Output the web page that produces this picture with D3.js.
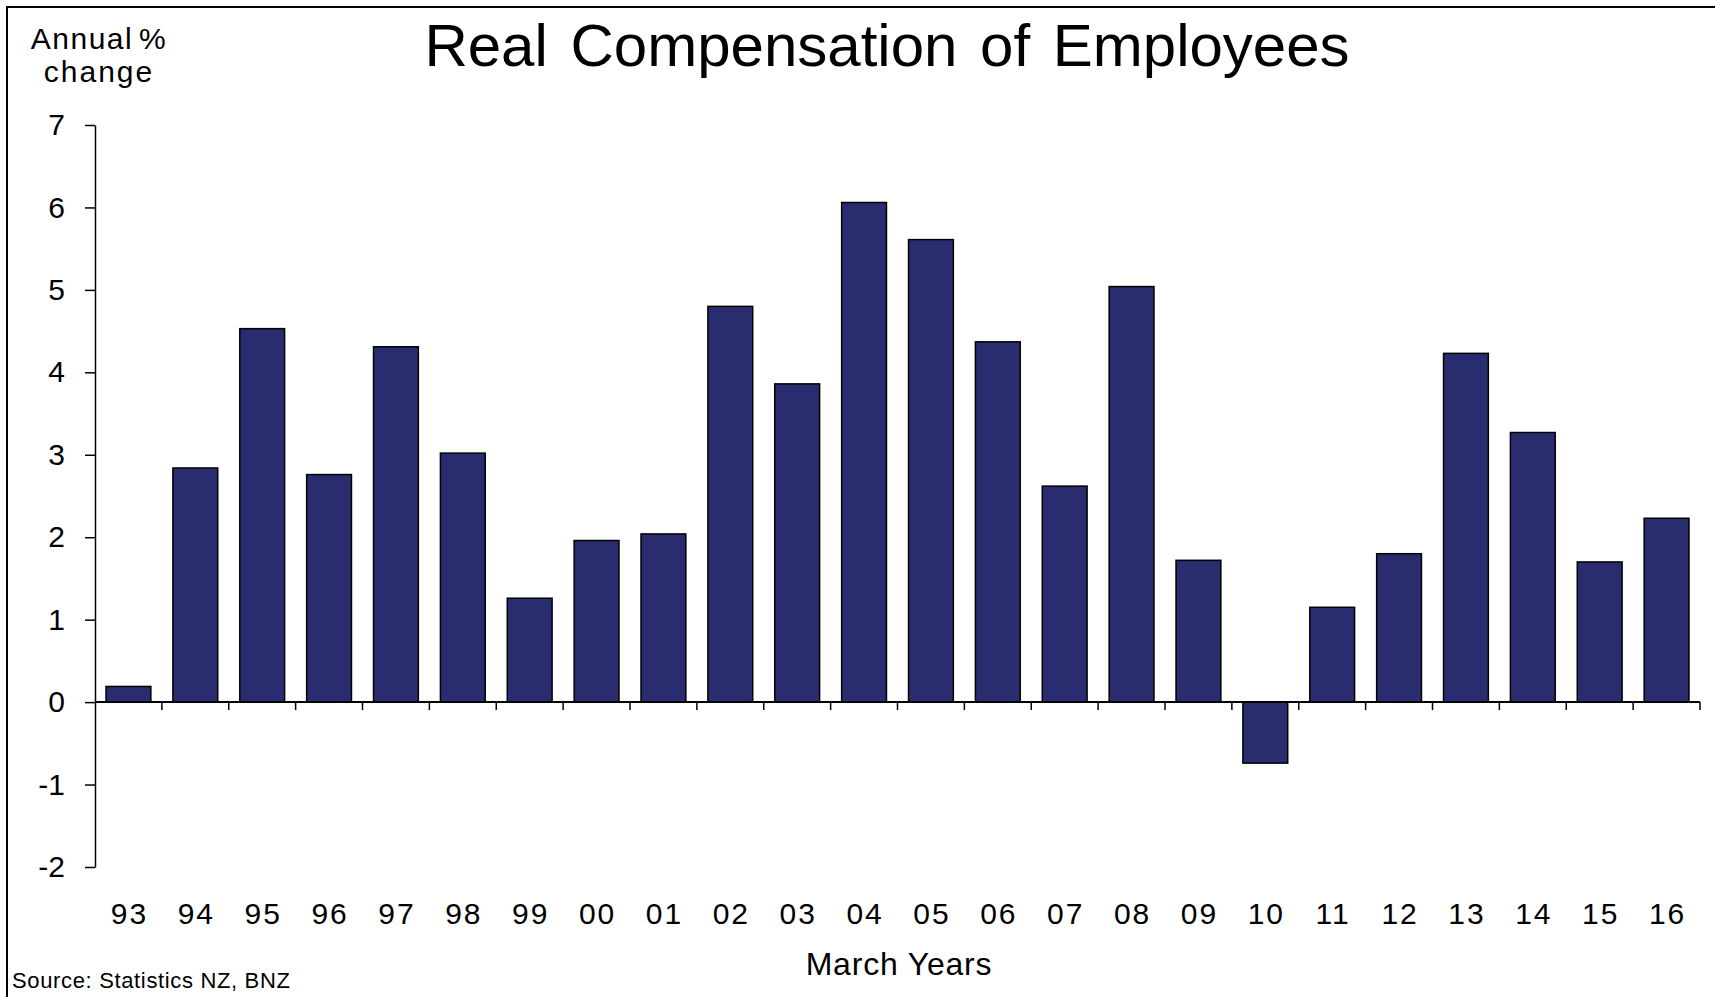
<!DOCTYPE html>
<html>
<head>
<meta charset="utf-8">
<script src="https://cdn.jsdelivr.net/npm/d3@7"></script>
<style>
  body { margin: 0; background: #fff; }
  svg { display: block; font-family: "Liberation Sans", Arial, sans-serif; }
  .axis text { font-size: 30px; fill: #000; }
  .x-axis text { letter-spacing: 2px; }
</style>
</head>
<body>
<svg id="chart"></svg>
<script>
// March years and annual % change
const years = ["93","94","95","96","97","98","99","00","01","02","03","04",
               "05","06","07","08","09","10","11","12","13","14","15","16"];
const changes = [0.19, 2.84, 4.53, 2.76, 4.31, 3.02, 1.26, 1.96, 2.04, 4.80, 3.86, 6.06,
                 5.61, 4.37, 2.62, 5.04, 1.72, -0.74, 1.15, 1.80, 4.23, 3.27, 1.70, 2.23];
const yTicks = [-2, -1, 0, 1, 2, 3, 4, 5, 6, 7];

const width = 1715, height = 997;
const plot = {left: 95, right: 1700, top: 125, bottom: 867};

const svg = d3.select("#chart")
    .attr("width", width)
    .attr("height", height);

// outer frame (only top and left edges show inside the picture)
svg.append("rect")
    .attr("x", 7).attr("y", 7)
    .attr("width", width).attr("height", height)
    .attr("fill", "none")
    .attr("stroke", "#000")
    .attr("stroke-width", 2);

const x = d3.scaleBand()
    .domain(years)
    .range([plot.left, plot.right])
    .paddingInner(0.33)
    .paddingOuter(0.165);

const y = d3.scaleLinear()
    .domain([-2, 7])
    .range([plot.bottom, plot.top]);

const data = years.map((yr, i) => ({year: yr, value: changes[i]}));

// bars
svg.append("g").selectAll("rect")
    .data(data)
    .enter()
    .append("rect")
    .attr("x", d => x(d.year))
    .attr("width", x.bandwidth())
    .attr("y", d => y(Math.max(0, d.value)))
    .attr("height", d => Math.abs(y(d.value) - y(0)))
    .attr("fill", "#292c6f")
    .attr("stroke", "#000")
    .attr("stroke-width", 1.5);

// y axis, plain hyphen for negatives like the original
const yAxis = d3.axisLeft(y)
    .tickValues(yTicks)
    .tickFormat(d => String(d))
    .tickSize(10)
    .tickSizeOuter(0)
    .tickPadding(20);

svg.append("g")
    .attr("class", "axis y-axis")
    .attr("transform", `translate(${plot.left},0)`)
    .call(yAxis)
    .call(g => g.selectAll("line, path").attr("stroke", "#000").attr("stroke-width", 1.5));

// zero line with ticks at the category boundaries
const step = x.step();
const boundaries = years.map((yr, i) => plot.left + step * (i + 1));
const zeroG = svg.append("g").attr("class", "zero-line");
zeroG.append("line")
    .attr("x1", plot.left).attr("x2", plot.right)
    .attr("y1", y(0)).attr("y2", y(0))
    .attr("stroke", "#000").attr("stroke-width", 2);
zeroG.selectAll(".btick")
    .data(boundaries)
    .enter()
    .append("line")
    .attr("class", "btick")
    .attr("x1", d => d).attr("x2", d => d)
    .attr("y1", y(0)).attr("y2", y(0) + 8)
    .attr("stroke", "#000").attr("stroke-width", 1.5);

// year labels sit below the plot area
const xAxis = d3.axisBottom(x).tickSize(0).tickPadding(0);
svg.append("g")
    .attr("class", "axis x-axis")
    .attr("transform", "translate(1,903)")
    .call(xAxis)
    .call(g => g.select(".domain").remove());

// titles
svg.append("text")
    .attr("x", 887).attr("y", 66)
    .attr("text-anchor", "middle")
    .attr("font-size", 60)
    .attr("word-spacing", 6)
    .text("Real Compensation of Employees");

svg.append("text")
    .attr("x", 99).attr("y", 49)
    .attr("text-anchor", "middle")
    .attr("font-size", 30)
    .attr("letter-spacing", 1.5)
    .attr("word-spacing", -4)
    .text("Annual %");

svg.append("text")
    .attr("x", 99).attr("y", 82)
    .attr("text-anchor", "middle")
    .attr("font-size", 30)
    .attr("letter-spacing", 2)
    .text("change");

svg.append("text")
    .attr("x", 899).attr("y", 975)
    .attr("text-anchor", "middle")
    .attr("font-size", 32)
    .attr("letter-spacing", 0.8)
    .text("March Years");

svg.append("text")
    .attr("x", 12).attr("y", 988)
    .attr("font-size", 22)
    .attr("letter-spacing", 0.65)
    .text("Source: Statistics NZ, BNZ");
</script>
</body>
</html>
